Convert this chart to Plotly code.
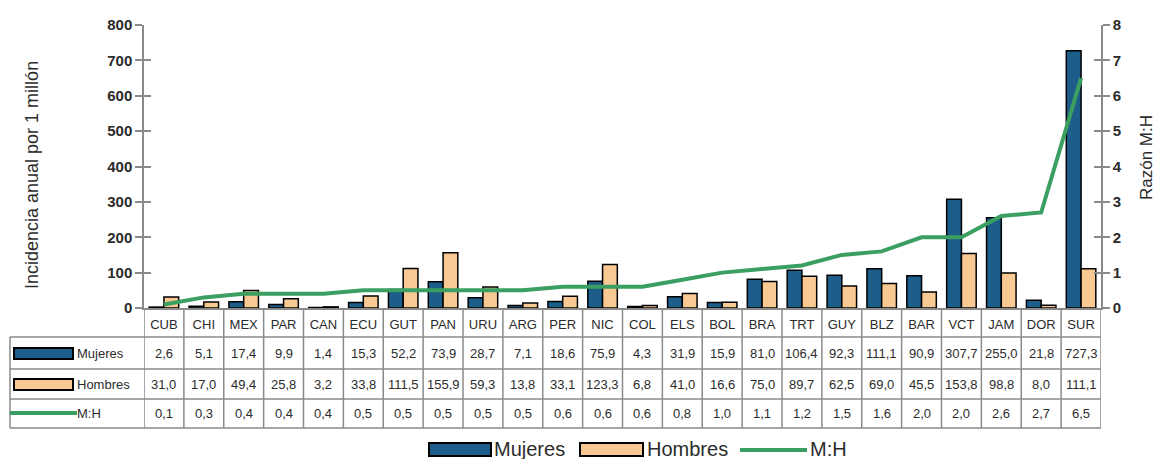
import plotly.graph_objects as go

# Data
paises = ["CUB", "CHI", "MEX", "PAR", "CAN", "ECU", "GUT", "PAN", "URU", "ARG", "PER", "NIC",
          "COL", "ELS", "BOL", "BRA", "TRT", "GUY", "BLZ", "BAR", "VCT", "JAM", "DOR", "SUR"]
mujeres = [2.6, 5.1, 17.4, 9.9, 1.4, 15.3, 52.2, 73.9, 28.7, 7.1, 18.6, 75.9,
           4.3, 31.9, 15.9, 81.0, 106.4, 92.3, 111.1, 90.9, 307.7, 255.0, 21.8, 727.3]
hombres = [31.0, 17.0, 49.4, 25.8, 3.2, 33.8, 111.5, 155.9, 59.3, 13.8, 33.1, 123.3,
           6.8, 41.0, 16.6, 75.0, 89.7, 62.5, 69.0, 45.5, 153.8, 98.8, 8.0, 111.1]
razon_mh = [0.1, 0.3, 0.4, 0.4, 0.4, 0.5, 0.5, 0.5, 0.5, 0.5, 0.6, 0.6,
            0.6, 0.8, 1.0, 1.1, 1.2, 1.5, 1.6, 2.0, 2.0, 2.6, 2.7, 6.5]

AZUL = "#1d5d89"
TAN = "#f9c994"
VERDE = "#3b9f62"
GRIS = "#8a8a8a"
TXT = "#2b2b2b"
FONT = "Liberation Sans Narrow, Arial Narrow, Liberation Sans, Arial, sans-serif"

W, H = 1155, 459
X0, X1, Y0, Y1 = 144, 1101, 25, 308   # plot area in pixels


def px(p):
    return (p - X0) / (X1 - X0)


def py(p):
    return (Y1 - p) / (Y1 - Y0)


def fmt(v):
    return f"{v:.1f}".replace(".", ",")


def texto(x, y, s, size, xref="paper", xanchor="center", angle=0):
    return dict(x=x, y=y, xref=xref, yref="paper", text=s, showarrow=False,
                xanchor=xanchor, yanchor="middle", textangle=angle,
                font=dict(size=size, color=TXT, family=FONT))


fig = go.Figure()

fig.add_trace(go.Bar(x=paises, y=mujeres, name="Mujeres",
                     marker=dict(color=AZUL, line=dict(color="black", width=1.5))))
fig.add_trace(go.Bar(x=paises, y=hombres, name="Hombres",
                     marker=dict(color=TAN, line=dict(color="black", width=1.5))))
fig.add_trace(go.Scatter(x=paises, y=razon_mh, name="M:H", yaxis="y2", mode="lines",
                         line=dict(color=VERDE, width=4)))
# empty traces so the inner tick axes get drawn (ticks crossing the axis lines)
fig.add_trace(go.Scatter(x=[], y=[], yaxis="y3", hoverinfo="skip"))
fig.add_trace(go.Scatter(x=[], y=[], yaxis="y4", hoverinfo="skip"))

shapes = []
annotations = []

# table rows (pixel y of row borders)
row_lines = [337, 369, 399, 428]
row_centers = [353, 384, 413]
for yl in row_lines:
    shapes.append(dict(type="line", xref="paper", yref="paper", x0=px(10), x1=1,
                       y0=py(yl), y1=py(yl), line=dict(color=GRIS, width=1.5)))
shapes.append(dict(type="line", xref="paper", yref="paper", x0=px(10), x1=px(10),
                   y0=py(337), y1=py(428), line=dict(color=GRIS, width=1.5)))
for k in range(len(paises) + 1):
    shapes.append(dict(type="line", xref="x", yref="paper", x0=k - 0.5, x1=k - 0.5,
                       y0=py(Y1), y1=py(428), line=dict(color=GRIS, width=1.5)))

# table cells
for fila, valores in zip(row_centers, [mujeres, hombres, razon_mh]):
    for i, v in enumerate(valores):
        annotations.append(texto(i, py(fila), fmt(v), 13, xref="x"))

# row headers with swatches
shapes.append(dict(type="rect", xref="paper", yref="paper", x0=px(14), x1=px(73),
                   y0=py(359), y1=py(348), fillcolor=AZUL, line=dict(color="black", width=2)))
shapes.append(dict(type="rect", xref="paper", yref="paper", x0=px(14), x1=px(73),
                   y0=py(390), y1=py(379), fillcolor=TAN, line=dict(color="black", width=2)))
shapes.append(dict(type="line", xref="paper", yref="paper", x0=px(10), x1=px(77),
                   y0=py(413), y1=py(413), line=dict(color=VERDE, width=4)))
for fila, nombre in zip(row_centers, ["Mujeres", "Hombres", "M:H"]):
    annotations.append(texto(px(75), py(fila), nombre, 13, xanchor="left"))

# bottom legend
shapes.append(dict(type="rect", xref="paper", yref="paper", x0=px(429), x1=px(491),
                   y0=py(456), y1=py(443), fillcolor=AZUL, line=dict(color="black", width=2)))
shapes.append(dict(type="rect", xref="paper", yref="paper", x0=px(580), x1=px(643),
                   y0=py(456), y1=py(443), fillcolor=TAN, line=dict(color="black", width=2)))
shapes.append(dict(type="line", xref="paper", yref="paper", x0=px(740), x1=px(807),
                   y0=py(450), y1=py(450), line=dict(color=VERDE, width=4)))
for xl, nombre in [(492, "Mujeres"), (645, "Hombres"), (808, "M:H")]:
    annotations.append(texto(px(xl), py(449), nombre, 20, xanchor="left"))

# axis titles
annotations.append(texto(px(32), py(175), "Incidencia anual por 1 millón", 18, angle=-90))
annotations.append(texto(px(1146), py(158), "Razón M:H", 17, angle=-90))

tick_font = dict(size=15, color=TXT, family=FONT, weight="bold")

fig.update_layout(
    width=W, height=H,
    margin=dict(l=X0, r=W - X1, t=Y0, b=H - Y1),
    paper_bgcolor="white", plot_bgcolor="white",
    showlegend=False,
    barmode="group", bargap=0.26, bargroupgap=0,
    font=dict(family=FONT, color=TXT),
    xaxis=dict(type="category", range=[-0.5, len(paises) - 0.5], showgrid=False,
               showline=True, linecolor=GRIS, linewidth=1.5, ticks="",
               tickfont=dict(size=13, color=TXT), ticklabelstandoff=4),
    yaxis=dict(range=[0, 800], dtick=100, showgrid=False, zeroline=False,
               showline=True, linecolor=GRIS, linewidth=1.5,
               ticks="outside", ticklen=7, tickcolor=GRIS, tickwidth=1.5,
               tickfont=tick_font),
    yaxis2=dict(range=[0, 8], dtick=1, overlaying="y", side="right", showgrid=False,
                zeroline=False, showline=True, linecolor=GRIS, linewidth=1.5,
                ticks="outside", ticklen=7, tickcolor=GRIS, tickwidth=1.5,
                tickfont=tick_font),
    yaxis3=dict(range=[0, 800], dtick=100, overlaying="y", showgrid=False, zeroline=False,
                showticklabels=False, ticks="inside", ticklen=7, tickcolor=GRIS,
                tickwidth=1.5),
    yaxis4=dict(range=[0, 8], dtick=1, overlaying="y", side="right", showgrid=False,
                zeroline=False, showticklabels=False, ticks="inside", ticklen=7,
                tickcolor=GRIS, tickwidth=1.5),
    shapes=shapes,
    annotations=annotations,
)

fig.write_html("out.html", config={"displayModeBar": False},
               post_script="document.body.style.margin = '0';")
